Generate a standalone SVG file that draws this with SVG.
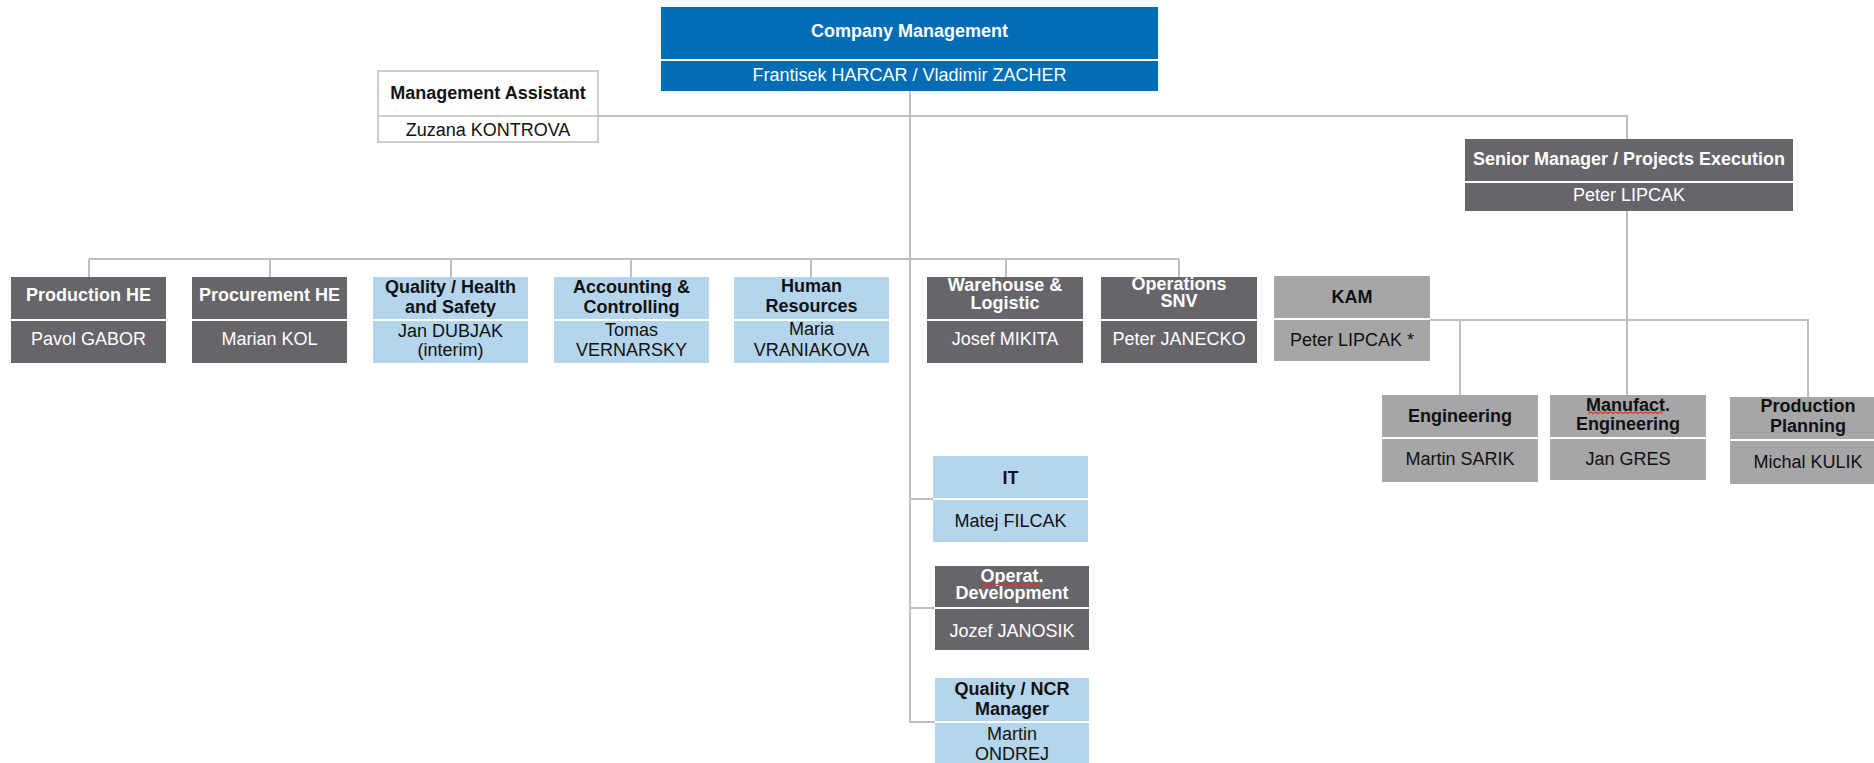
<svg xmlns="http://www.w3.org/2000/svg" width="1874" height="763" viewBox="0 0 1874 763">
<style>
text{font-family:"Liberation Sans",Arial,sans-serif;font-size:18px;text-anchor:middle}
.b{font-weight:bold}
.w{fill:#ffffff}
.k{fill:#111111}
.blue{fill:#006db5}
.dark{fill:#666569}
.lb{fill:#b4d5ec}
.lg{fill:#a6a6a6}
.div{stroke:#ffffff;stroke-width:2}
.conn{fill:none;stroke:#bfbfbf;stroke-width:2}
.sq{fill:none;stroke:#e03030;stroke-width:1.2}
</style>
<rect width="1874" height="763" fill="#ffffff"/>
<g id="connectors">
<path class="conn" d="M910,91V722H935M910,499H933M910,608H935"/>
<path class="conn" d="M598,116H1627V139"/>
<path class="conn" d="M89,259H1179M89,259V277M270,259V277M451,259V277M631,259V277M811,259V277M1006,259V277M1179,259V277"/>
<path class="conn" d="M1627,211V395M1430,320H1808V397M1460,320V395"/>
</g>
<g id="company">
<rect class="blue" x="661" y="7" width="497" height="84"/>
<line class="div" x1="661" y1="60" x2="1158" y2="60"/>
<text class="b w" x="909.5" y="37">Company Management</text>
<text class="w" x="909.5" y="81">Frantisek HARCAR / Vladimir ZACHER</text>
</g>
<g id="assistant">
<rect x="378" y="71" width="220" height="71" fill="#ffffff" stroke="#bfbfbf" stroke-width="1.5"/>
<line x1="378" y1="116" x2="598" y2="116" stroke="#bfbfbf" stroke-width="1.5"/>
<text class="b k" x="488" y="99">Management Assistant</text>
<text class="k" x="488" y="136">Zuzana KONTROVA</text>
</g>
<g id="senior">
<rect class="dark" x="1465" y="139" width="328" height="72"/>
<line class="div" x1="1465" y1="182" x2="1793" y2="182"/>
<text class="b w" x="1629" y="165">Senior Manager / Projects Execution</text>
<text class="w" x="1629" y="201">Peter LIPCAK</text>
</g>
<g id="production-he">
<rect class="dark" x="11" y="277" width="155" height="86"/>
<line class="div" x1="11" y1="320" x2="166" y2="320"/>
<text class="b w" x="88.5" y="301">Production HE</text>
<text class="w" x="88.5" y="345">Pavol GABOR</text>
</g>
<g id="procurement-he">
<rect class="dark" x="192" y="277" width="155" height="86"/>
<line class="div" x1="192" y1="320" x2="347" y2="320"/>
<text class="b w" x="269.5" y="301">Procurement HE</text>
<text class="w" x="269.5" y="345">Marian KOL</text>
</g>
<g id="quality-hs">
<rect class="lb" x="373" y="277" width="155" height="86"/>
<line class="div" x1="373" y1="320" x2="528" y2="320"/>
<text class="b k" x="450.5" y="293">Quality / Health</text>
<text class="b k" x="450.5" y="313">and Safety</text>
<text class="k" x="450.5" y="337">Jan DUBJAK</text>
<text class="k" x="450.5" y="356">(interim)</text>
</g>
<g id="accounting">
<rect class="lb" x="554" y="277" width="155" height="86"/>
<line class="div" x1="554" y1="320" x2="709" y2="320"/>
<text class="b k" x="631.5" y="293">Accounting &amp;</text>
<text class="b k" x="631.5" y="313">Controlling</text>
<text class="k" x="631.5" y="336">Tomas</text>
<text class="k" x="631.5" y="356">VERNARSKY</text>
</g>
<g id="hr">
<rect class="lb" x="734" y="277" width="155" height="86"/>
<line class="div" x1="734" y1="320" x2="889" y2="320"/>
<text class="b k" x="811.5" y="292">Human</text>
<text class="b k" x="811.5" y="312">Resources</text>
<text class="k" x="811.5" y="335">Maria</text>
<text class="k" x="811.5" y="356">VRANIAKOVA</text>
</g>
<g id="warehouse">
<rect class="dark" x="927" y="277" width="156" height="86"/>
<line class="div" x1="927" y1="320" x2="1083" y2="320"/>
<text class="b w" x="1005" y="291">Warehouse &amp;</text>
<text class="b w" x="1005" y="308.5">Logistic</text>
<text class="w" x="1005" y="344.5">Josef MIKITA</text>
</g>
<g id="operations-snv">
<rect class="dark" x="1101" y="277" width="156" height="86"/>
<line class="div" x1="1101" y1="320" x2="1257" y2="320"/>
<text class="b w" x="1179" y="290">Operations</text>
<text class="b w" x="1179" y="307">SNV</text>
<text class="w" x="1179" y="345">Peter JANECKO</text>
</g>
<g id="kam">
<rect class="lg" x="1274" y="276" width="156" height="85"/>
<line class="div" x1="1274" y1="319" x2="1430" y2="319"/>
<text class="b k" x="1352" y="302.5">KAM</text>
<text class="k" x="1352" y="346">Peter LIPCAK *</text>
</g>
<g id="engineering">
<rect class="lg" x="1382" y="395" width="156" height="87"/>
<line class="div" x1="1382" y1="438" x2="1538" y2="438"/>
<text class="b k" x="1460" y="421.5">Engineering</text>
<text class="k" x="1460" y="465">Martin SARIK</text>
</g>
<g id="manufact-engineering">
<rect class="lg" x="1550" y="395" width="156" height="85"/>
<line class="div" x1="1550" y1="438" x2="1706" y2="438"/>
<text class="b k" x="1628" y="410.5">Manufact.</text>
<text class="b k" x="1628" y="430">Engineering</text>
<path class="sq" d="M1588,413.5l2.5,-1.5l2.5,1.5l2.5,-1.5l2.5,1.5l2.5,-1.5l2.5,1.5l2.5,-1.5l2.5,1.5l2.5,-1.5l2.5,1.5l2.5,-1.5l2.5,1.5l2.5,-1.5l2.5,1.5l2.5,-1.5l2.5,1.5l2.5,-1.5l2.5,1.5l2.5,-1.5l2.5,1.5l2.5,-1.5l2.5,1.5l2.5,-1.5l2.5,1.5l2.5,-1.5l2.5,1.5l2.5,-1.5l2.5,1.5l2.5,-1.5l2.5,1.5"/>
<text class="k" x="1628" y="464.5">Jan GRES</text>
</g>
<g id="production-planning">
<rect class="lg" x="1730" y="397" width="156" height="87"/>
<line class="div" x1="1730" y1="440" x2="1886" y2="440"/>
<text class="b k" x="1808" y="412">Production</text>
<text class="b k" x="1808" y="432">Planning</text>
<text class="k" x="1808" y="468">Michal KULIK</text>
</g>
<g id="it">
<rect class="lb" x="933" y="456" width="155" height="86"/>
<line class="div" x1="933" y1="499" x2="1088" y2="499"/>
<text class="b k" x="1010.5" y="483.5">IT</text>
<text class="k" x="1010.5" y="527">Matej FILCAK</text>
</g>
<g id="operat-development">
<rect class="dark" x="935" y="566" width="154" height="84"/>
<line class="div" x1="935" y1="608" x2="1089" y2="608"/>
<text class="b w" x="1012" y="582">Operat.</text>
<text class="b w" x="1012" y="598.5">Development</text>
<path class="sq" d="M980,585.5l2.5,-1.5l2.5,1.5l2.5,-1.5l2.5,1.5l2.5,-1.5l2.5,1.5l2.5,-1.5l2.5,1.5l2.5,-1.5l2.5,1.5l2.5,-1.5l2.5,1.5l2.5,-1.5l2.5,1.5l2.5,-1.5l2.5,1.5l2.5,-1.5l2.5,1.5l2.5,-1.5l2.5,1.5l2.5,-1.5l2.5,1.5l2.5,-1.5l2.5,1.5"/>
<text class="w" x="1012" y="637">Jozef JANOSIK</text>
</g>
<g id="quality-ncr">
<rect class="lb" x="935" y="678" width="154" height="87"/>
<line class="div" x1="935" y1="722" x2="1089" y2="722"/>
<text class="b k" x="1012" y="695">Quality / NCR</text>
<text class="b k" x="1012" y="715">Manager</text>
<text class="k" x="1012" y="740">Martin</text>
<text class="k" x="1012" y="760">ONDREJ</text>
</g>
</svg>
